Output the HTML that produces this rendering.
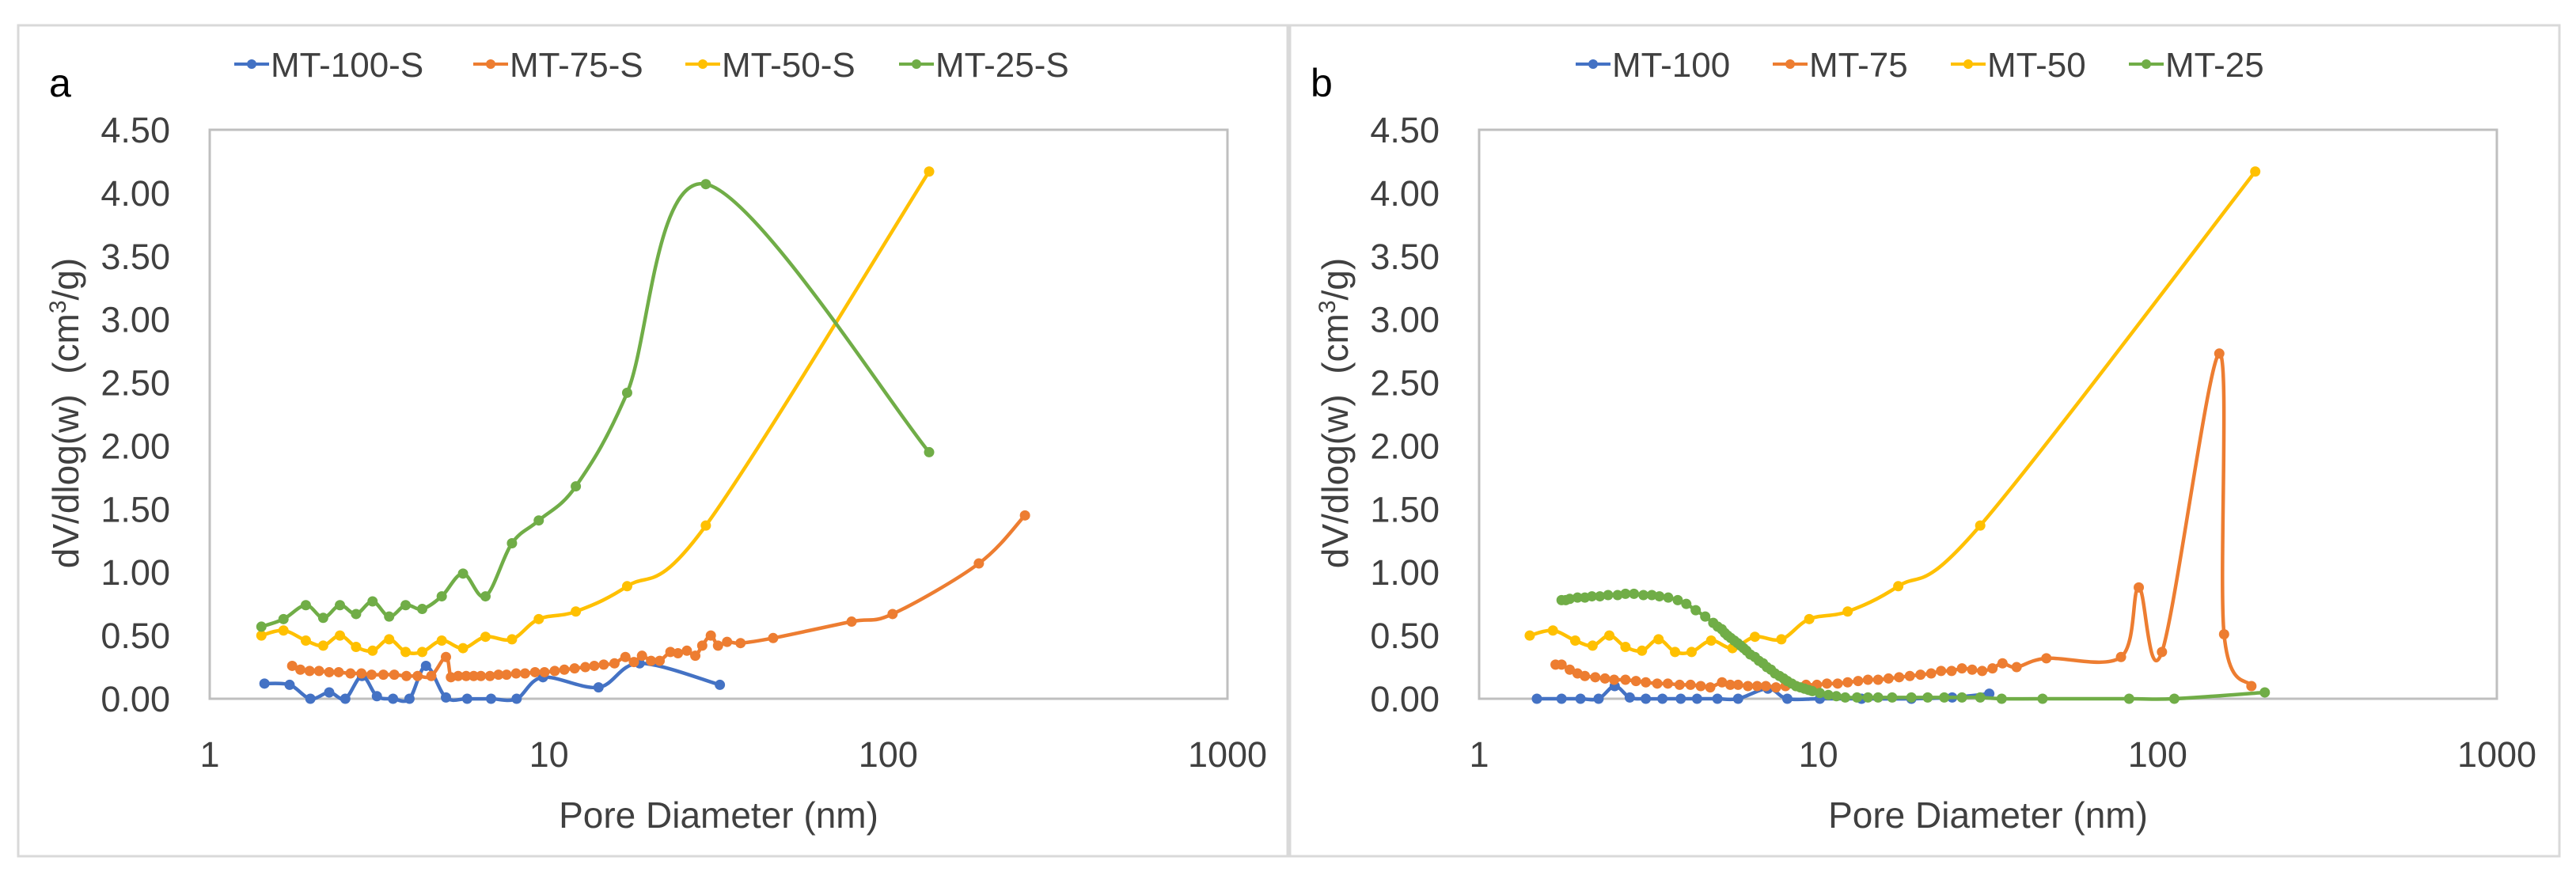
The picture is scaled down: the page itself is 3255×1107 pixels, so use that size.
<!DOCTYPE html>
<html><head><meta charset="utf-8">
<style>
html,body{margin:0;padding:0;background:#fff;}
svg{display:block;font-family:"Liberation Sans",sans-serif;}
</style></head>
<body>
<svg id="fig" width="3255" height="1107" viewBox="0 0 3255 1107">
<rect x="0" y="0" width="3255" height="1107" fill="#fff"/>
</svg>
<script>
// ---- data ----
const yTicks = [0,0.5,1,1.5,2,2.5,3,3.5,4,4.5];
const yTickLabels = ["0.00","0.50","1.00","1.50","2.00","2.50","3.00","3.50","4.00","4.50"];
const xTicks = [1,10,100,1000];
const xTickLabels = ["1","10","100","1000"];
const seriesColors = ["#4472C4","#ED7D31","#FFC000","#70AD47"];
const namesA = ["MT-100-S","MT-75-S","MT-50-S","MT-25-S"];
const namesB = ["MT-100","MT-75","MT-50","MT-25"];

const a100 = [[1.45,0.12],[1.72,0.11],[1.98,0],[2.25,0.05],[2.51,0],[2.81,0.18],[3.11,0.02],[3.47,0],[3.88,0],[4.34,0.26],[4.97,0.01],[5.74,0],[6.75,0],[8.03,0],[9.6,0.17],[14.0,0.09],[18.5,0.28],[31.9,0.11]];
const a75 = [[1.75,0.26],[1.85,0.23],[1.97,0.22],[2.1,0.22],[2.25,0.21],[2.4,0.21],[2.6,0.2],[2.8,0.2],[3.0,0.19],[3.25,0.19],[3.5,0.19],[3.8,0.18],[4.1,0.18],[4.5,0.18],[4.97,0.33],[5.14,0.17],[5.4,0.18],[5.7,0.18],[6.0,0.18],[6.3,0.18],[6.7,0.18],[7.1,0.19],[7.5,0.19],[8.0,0.2],[8.5,0.2],[9.1,0.21],[9.7,0.21],[10.4,0.22],[11.1,0.23],[11.9,0.24],[12.8,0.25],[13.6,0.26],[14.5,0.27],[15.6,0.28],[16.8,0.33],[17.8,0.29],[18.8,0.34],[20,0.3],[21.2,0.3],[22.8,0.37],[24,0.36],[25.5,0.38],[27,0.34],[28.3,0.42],[30,0.5],[31.5,0.42],[33.5,0.45],[36.7,0.44],[45.8,0.48],[78,0.61],[103,0.67],[185,1.07],[253,1.45]];
const a50 = [[1.42,0.5],[1.65,0.54],[1.92,0.46],[2.16,0.42],[2.42,0.5],[2.7,0.41],[3.02,0.38],[3.38,0.47],[3.78,0.37],[4.23,0.37],[4.83,0.46],[5.58,0.4],[6.5,0.49],[7.78,0.47],[9.33,0.63],[12.0,0.69],[17.0,0.89],[29.0,1.37],[132,4.17]];
const a25 = [[1.42,0.57],[1.65,0.63],[1.92,0.74],[2.16,0.64],[2.42,0.74],[2.7,0.67],[3.02,0.77],[3.38,0.65],[3.78,0.74],[4.23,0.71],[4.83,0.81],[5.58,0.99],[6.5,0.81],[7.78,1.23],[9.33,1.41],[12.0,1.68],[17.0,2.42],[29.0,4.07],[132,1.95]];

const b100 = [[1.48,0],[1.75,0],[1.99,0],[2.25,0],[2.51,0.1],[2.78,0.01],[3.1,0],[3.47,0],[3.93,0],[4.39,0],[5.04,0],[5.8,0],[7.1,0.08],[8.1,0],[10.1,0],[13.4,0],[18.8,0],[24.8,0.01],[31.9,0.04]];
const b75 = [[1.68,0.27],[1.75,0.27],[1.85,0.23],[1.95,0.2],[2.05,0.18],[2.2,0.17],[2.35,0.16],[2.5,0.15],[2.7,0.15],[2.9,0.14],[3.1,0.13],[3.35,0.12],[3.6,0.12],[3.9,0.11],[4.2,0.11],[4.5,0.1],[4.8,0.09],[5.2,0.13],[5.5,0.11],[5.8,0.11],[6.2,0.1],[6.6,0.1],[7.0,0.1],[7.5,0.09],[8.0,0.1],[8.6,0.1],[9.2,0.11],[9.9,0.11],[10.6,0.12],[11.4,0.12],[12.2,0.13],[13.1,0.14],[14.0,0.15],[15.0,0.15],[16.1,0.16],[17.3,0.17],[18.6,0.18],[20,0.19],[21.5,0.2],[23,0.22],[24.7,0.22],[26.5,0.24],[28.4,0.23],[30.4,0.22],[32.6,0.24],[34.9,0.28],[38.4,0.25],[47,0.32],[78,0.33],[88,0.88],[103,0.37],[152,2.73],[157,0.51],[189,0.1]];
const b50 = [[1.41,0.5],[1.65,0.54],[1.92,0.46],[2.16,0.42],[2.42,0.5],[2.7,0.41],[3.02,0.38],[3.38,0.47],[3.78,0.37],[4.23,0.37],[4.83,0.46],[5.58,0.4],[6.5,0.49],[7.78,0.47],[9.4,0.63],[12.2,0.69],[17.2,0.89],[30,1.37],[194,4.17]];
const b25 = [[1.75,0.78],[1.8,0.78],[1.85,0.79],[1.95,0.8],[2.05,0.8],[2.15,0.81],[2.27,0.81],[2.4,0.82],[2.56,0.82],[2.7,0.83],[2.86,0.83],[3.05,0.82],[3.23,0.82],[3.4,0.81],[3.61,0.8],[3.85,0.78],[4.08,0.75],[4.35,0.7],[4.64,0.65],[4.9,0.6],[5.05,0.57],[5.19,0.55],[5.3,0.52],[5.4,0.5],[5.52,0.48],[5.65,0.46],[5.78,0.44],[5.9,0.42],[6.02,0.4],[6.14,0.38],[6.3,0.35],[6.5,0.33],[6.68,0.3],[6.87,0.28],[7.05,0.25],[7.25,0.23],[7.45,0.2],[7.68,0.18],[7.9,0.16],[8.1,0.14],[8.35,0.12],[8.59,0.1],[8.85,0.09],[9.1,0.08],[9.35,0.07],[9.6,0.06],[10.1,0.045],[10.7,0.03],[11.3,0.02],[12.0,0.01],[13,0.01],[14,0.01],[15,0.01],[16.5,0.01],[18.8,0.01],[21,0.01],[23.5,0.01],[26.5,0.01],[30,0.01],[34.7,0],[45.8,0],[82.4,0],[112,0],[207,0.05]];

const panels = [
  {id:"a", left:265, right:1551, label:"a", labelX:62, names:namesA, series:[a100,a75,a50,a25],
   legLine:[296,598,866,1136]},
  {id:"b", left:1869, right:3155, label:"b", labelX:1656, names:namesB, series:[b100,b75,b50,b25],
   legLine:[1991,2240,2465,2690]}
];
const TOP=164, BOT=883, YMAX=4.5;

const NS="http://www.w3.org/2000/svg";
const svg=document.getElementById('fig');
function mk(tag,attrs,parent){const e=document.createElementNS(NS,tag);for(const k in attrs)e.setAttribute(k,attrs[k]);(parent||svg).appendChild(e);return e;}

function smoothPath(pts){
  if(pts.length<2) return "";
  let d="M"+pts[0][0].toFixed(1)+","+pts[0][1].toFixed(1);
  for(let i=0;i<pts.length-1;i++){
    const p0=pts[Math.max(0,i-1)],p1=pts[i],p2=pts[i+1],p3=pts[Math.min(pts.length-1,i+2)];
    const c1x=p1[0]+(p2[0]-p0[0])/6,c1y=p1[1]+(p2[1]-p0[1])/6;
    const c2x=p2[0]-(p3[0]-p1[0])/6,c2y=p2[1]-(p3[1]-p1[1])/6;
    d+=" C"+c1x.toFixed(1)+","+c1y.toFixed(1)+" "+c2x.toFixed(1)+","+c2y.toFixed(1)+" "+p2[0].toFixed(1)+","+p2[1].toFixed(1);
  }
  return d;
}

const fa=mk('rect',{x:23,y:32,width:1604,height:1050,fill:'none',stroke:'#d9d9d9','stroke-width':3});


const fb=mk('rect',{x:1630,y:32,width:1604,height:1050,fill:'none',stroke:'#d9d9d9','stroke-width':3});



panels.forEach(p=>{
  const g=mk('g',{});
  
  
  const xs=v=>p.left+(Math.log10(v))/3*(p.right-p.left);
  const ys=v=>BOT-(v/YMAX)*(BOT-TOP);
  const box=mk('rect',{x:p.left,y:TOP,width:p.right-p.left,height:BOT-TOP,fill:'none',stroke:'#bfbfbf','stroke-width':3},g);
  
  
  yTicks.forEach((t,i)=>{
    const tx=mk('text',{x:p.left-50,y:ys(t)+16,'text-anchor':'end','font-size':45,fill:'#404040'},g);
    tx.textContent=yTickLabels[i];
    
    
  });
  xTicks.forEach((t,i)=>{
    const tx=mk('text',{x:xs(t),y:969,'text-anchor':'middle','font-size':45,fill:'#404040'},g);
    tx.textContent=xTickLabels[i];
    
    
  });
  const xt=mk('text',{x:(p.left+p.right)/2,y:1046,'text-anchor':'middle','font-size':46,fill:'#404040'},g);
  xt.textContent='Pore Diameter (nm)';
  
  
  const ycx=p.left-182, ycy=522;
  const yt=mk('text',{x:ycx,y:ycy+16,'text-anchor':'middle','font-size':46,fill:'#404040',transform:'rotate(-90 '+ycx+' '+ycy+')'},g);
  yt.innerHTML='dV/dlog(w)\u00a0\u00a0(cm<tspan font-size="30" dy="-16">3</tspan><tspan dy="16">/g)</tspan>';
  
  
  const pl=mk('text',{x:p.labelX,y:122,'font-size':50,fill:'#000'},g);
  pl.textContent=p.label;
  
  
  p.names.forEach((n,i)=>{
    const lg=mk('g',{},g);
    
    
    const lx=p.legLine[i];
    mk('line',{x1:lx,y1:81,x2:lx+44,y2:81,stroke:seriesColors[i],'stroke-width':4},lg);
    mk('circle',{cx:lx+22,cy:81,r:6,fill:seriesColors[i]},lg);
    const t=mk('text',{x:lx+46,y:97,'font-size':44,fill:'#404040'},lg);
    t.textContent=n;
  });
  p.series.forEach((s,i)=>{
    const sg=mk('g',{},g);
    
    
    const pts=s.map(d=>[xs(d[0]),ys(d[1])]);
    const path=mk('path',{d:smoothPath(pts),fill:'none',stroke:seriesColors[i],'stroke-width':4.5,'stroke-linejoin':'round'},sg);
    
    
    pts.forEach(q=>{
      const c=mk('circle',{cx:q[0],cy:q[1],r:6.5,fill:seriesColors[i]},sg);
      
      
    });
  });
});
</script>
</body></html>
